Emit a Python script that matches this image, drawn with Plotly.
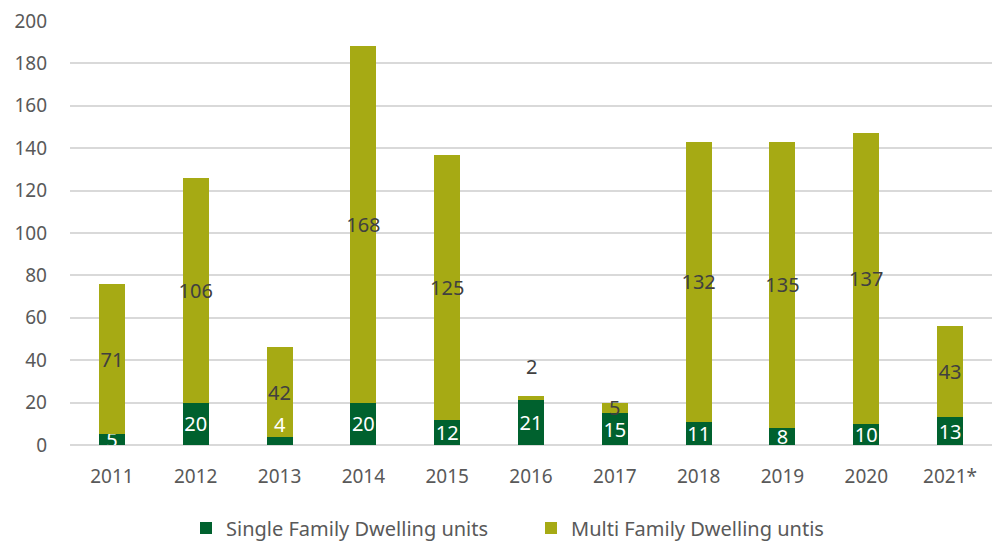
import plotly.graph_objects as go

years = ["2011", "2012", "2013", "2014", "2015", "2016", "2017", "2018", "2019", "2020", "2021*"]
single = [5, 20, 4, 20, 12, 21, 15, 11, 8, 10, 13]
multi = [71, 106, 42, 168, 125, 2, 5, 132, 135, 137, 43]
# data labels that were moved above their segment in the original
single_moved = ["2013"]
multi_moved = ["2016"]

single_color = "#00612E"
multi_color = "#A6AA14"
font_family = "Noto Sans, Open Sans, sans-serif"
label_size = 20

single_text = ["" if y in single_moved else str(v) for y, v in zip(years, single)]
multi_text = ["" if y in multi_moved else str(v) for y, v in zip(years, multi)]

fig = go.Figure()
fig.add_trace(go.Bar(
    x=years, y=single, name="Single Family Dwelling units",
    marker=dict(color=single_color, line=dict(width=0)),
    text=single_text, textposition="inside", textangle=0,
    insidetextanchor="middle", constraintext="none",
    textfont=dict(color="white", size=label_size, family=font_family),
))
fig.add_trace(go.Bar(
    x=years, y=multi, name="Multi Family Dwelling untis",
    marker=dict(color=multi_color, line=dict(width=0)),
    text=multi_text, textposition="inside", textangle=0,
    insidetextanchor="middle", constraintext="none",
    textfont=dict(color="#404040", size=label_size, family=font_family),
))

for i, (y, s, m) in enumerate(zip(years, single, multi)):
    if y in single_moved:
        fig.add_annotation(x=i, y=s, text=str(s), showarrow=False, yshift=12,
                           font=dict(color="white", size=label_size, family=font_family))
    if y in multi_moved:
        fig.add_annotation(x=i, y=s + m, text=str(m), showarrow=False, yshift=30,
                           font=dict(color="#404040", size=label_size, family=font_family))

fig.update_layout(
    barmode="stack",
    bargap=0.69,
    width=992, height=542,
    margin=dict(l=70, r=0, t=21, b=97, autoexpand=False),
    plot_bgcolor="white", paper_bgcolor="white",
    font=dict(family=font_family, color="#595959", size=19),
    legend=dict(orientation="h", x=0.5, xanchor="center",
                yref="container", y=0.026, yanchor="middle",
                entrywidth=300, entrywidthmode="pixels",
                font=dict(size=20, color="#595959"), traceorder="normal"),
    showlegend=True,
    xaxis=dict(type="category", categoryorder="array", categoryarray=years,
               showgrid=False, showline=False, zeroline=False, ticks="",
               ticklabelstandoff=18, automargin=False,
               tickfont=dict(size=19, color="#595959")),
    yaxis=dict(range=[0, 200], dtick=20, showgrid=True, gridcolor="#D9D9D9", gridwidth=1.5,
               zeroline=True, zerolinecolor="#D9D9D9", zerolinewidth=1.5,
               showline=False, ticks="", ticklabelstandoff=22, automargin=False,
               tickfont=dict(size=19, color="#595959")),
)

fig.write_html("out.html")
